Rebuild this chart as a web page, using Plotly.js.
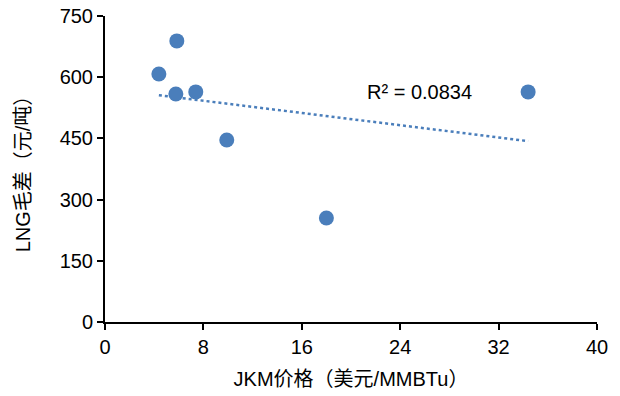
<!DOCTYPE html>
<html><head><meta charset="utf-8">
<script src="https://cdn.plot.ly/plotly-3.0.1.min.js"></script>
<style>body{margin:0;padding:0;background:#fff}#c{width:620px;height:396px}</style>
</head><body><div id="c"></div>
<script>
const jkmPrice = [4.38, 5.84, 5.76, 7.38, 9.9, 18.0, 34.4];
const lngSpread = [608, 689, 559, 564, 446, 255, 564];
const xTicks = [0, 8, 16, 24, 32, 40];
const yTicks = [0, 150, 300, 450, 600, 750];
const r2Label = 'R² = 0.0834';

// linear regression trendline
const n = jkmPrice.length;
const mx = jkmPrice.reduce((a,b)=>a+b,0)/n;
const my = lngSpread.reduce((a,b)=>a+b,0)/n;
let sxy=0, sxx=0;
for (let i=0;i<n;i++){const dx=jkmPrice[i]-mx, dy=lngSpread[i]-my; sxy+=dx*dy; sxx+=dx*dx;}
const slope = sxy/sxx, icpt = my - slope*mx;
const xmin = Math.min(...jkmPrice), xmax = Math.max(...jkmPrice);

const color = '#4a7ebb';
const font = 'Arial, "Liberation Sans", "Noto Sans CJK SC", sans-serif';

Plotly.newPlot('c', [
  {x:[xmin,xmax], y:[icpt+slope*xmin, icpt+slope*xmax], mode:'lines',
   line:{color:color, width:2.5, dash:'dot'}, hoverinfo:'skip'},
  {x:jkmPrice, y:lngSpread, mode:'markers', marker:{color:color, size:15}}
], {
  width:620, height:396, showlegend:false,
  margin:{l:105, r:23, t:16, b:74},
  paper_bgcolor:'#fff', plot_bgcolor:'#fff',
  font:{family:font, color:'#000', size:20},
  xaxis:{range:[0,40], tickvals:xTicks, ticktext:xTicks.map(String), showgrid:false, zeroline:false,
    showline:true, linecolor:'#000', linewidth:2, ticks:'outside', ticklen:6, tickwidth:2, tickcolor:'#000',
    tickfont:{size:20}, title:{text:'JKM价格（美元/MMBTu）', font:{size:20}, standoff:15}},
  yaxis:{range:[0,750], tickvals:yTicks, ticktext:yTicks.map(String), showgrid:false, zeroline:false,
    showline:true, linecolor:'#000', linewidth:2, ticks:'outside', ticklen:6, tickwidth:2, tickcolor:'#000',
    tickfont:{size:20}, title:{text:'LNG毛差（元/吨）', font:{size:20}, standoff:24}},
  annotations:[{x:25.6, y:564, xref:'x', yref:'y', text:r2Label,
    showarrow:false, font:{size:20, color:'#000'}}]
}, {displayModeBar:false, staticPlot:true});
</script></body></html>
